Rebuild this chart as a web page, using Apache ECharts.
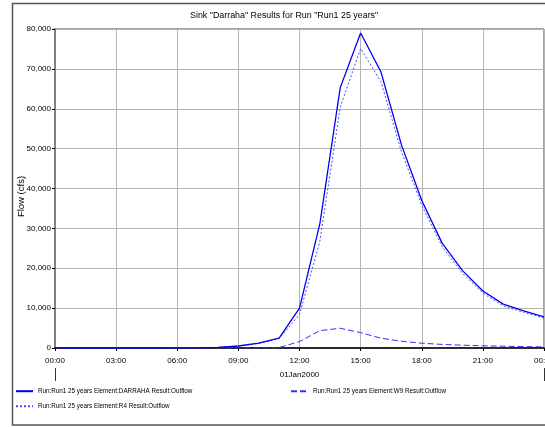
<!DOCTYPE html>
<html>
<head>
<meta charset="utf-8">
<script src="https://cdn.jsdelivr.net/npm/echarts@6/dist/echarts.min.js"></script>
<style>
  html, body { margin: 0; padding: 0; background: #fff; }
  #chart { width: 545px; height: 427px; }
</style>
</head>
<body>
<div id="chart"></div>
<script>
var FONT = '"Liberation Sans", Arial, sans-serif';

// hours since 00:00, 01Jan2000
var hours = [0, 1, 2, 3, 4, 5, 6, 7, 8, 9, 10, 11, 12, 13, 14, 15, 16, 17, 18, 19, 20, 21, 22, 23, 24];
// flows (cfs)
var darraha = [0, 0, 0, 0, 0, 0, 20, 50, 150, 500, 1200, 2500, 10000, 31200, 65300, 79000, 69200, 51000, 37000, 26300, 19400, 14300, 11000, 9300, 7800];
var w9 = [0, 0, 0, 0, 0, 0, 0, 0, 0, 0, 10, 120, 1600, 4350, 4950, 3850, 2450, 1700, 1200, 900, 700, 550, 450, 350, 280];
var r4 = [0, 0, 0, 0, 0, 0, 20, 50, 150, 500, 1150, 2350, 8400, 26800, 60400, 75100, 66800, 49300, 35800, 25400, 18700, 13750, 10550, 8950, 7500];

var names = [
  'Run:Run1 25 years Element:DARRAHA Result:Outflow',
  'Run:Run1 25 years Element:W9 Result:Outflow',
  'Run:Run1 25 years Element:R4 Result:Outflow'
];

function pairs(ys) {
  return hours.map(function (h, i) { return [h, ys[i]]; });
}

var chart = echarts.init(document.getElementById('chart'));
var legendText = { fontFamily: FONT, fontSize: 6.3, color: '#000' };
var legendBase = { itemWidth: 17, itemHeight: 8, padding: 0, textStyle: legendText, itemStyle: { opacity: 0 } };

chart.setOption({
  animation: false,
  title: {
    text: 'Sink "Darraha" Results for Run "Run1 25 years"',
    left: 185,
    top: 6,
    textStyle: { fontFamily: FONT, fontSize: 8.9, fontWeight: 'normal', color: '#000' }
  },
  graphic: [{
    type: 'rect',
    shape: { x: 12.5, y: 3.5, width: 560, height: 421.5 },
    style: { fill: 'none', stroke: '#555', lineWidth: 1.5 },
    silent: true
  }],
  legend: [
    Object.assign({ id: 'lg0', data: [names[0]], left: 15, top: 388 }, legendBase),
    Object.assign({ id: 'lg1', data: [names[1]], left: 290, top: 388 }, legendBase),
    Object.assign({ id: 'lg2', data: [names[2]], left: 15, top: 403 }, legendBase)
  ],
  grid: {
    left: 55, top: 29, right: 1, bottom: 79,
    outerBoundsMode: 'none', containLabel: false,
    show: true, borderColor: '#444', borderWidth: 1
  },
  xAxis: [{
    type: 'value', min: 0, max: 24, interval: 3,
    axisLine: { lineStyle: { color: '#000', width: 1.5 } },
    axisTick: { length: 3, lineStyle: { color: '#000' } },
    axisLabel: {
      fontFamily: FONT, fontSize: 8, color: '#000', margin: 9,
      formatter: function (v) { var h = v % 24; return (h < 10 ? '0' : '') + h + ':00'; }
    },
    splitLine: { show: true, lineStyle: { color: '#b4b4b4', width: 1 } }
  }, {
    type: 'value', min: 0, max: 24, interval: 24, position: 'bottom', offset: 20,
    name: '01Jan2000', nameLocation: 'middle', nameGap: 3,
    nameTextStyle: { fontFamily: FONT, fontSize: 8, color: '#000' },
    axisLine: { show: false },
    axisTick: { show: true, length: 13, lineStyle: { color: '#333', width: 1 } },
    axisLabel: { show: false },
    splitLine: { show: false }
  }],
  yAxis: {
    type: 'value', min: 0, max: 80000, interval: 10000,
    name: 'Flow (cfs)', nameLocation: 'middle', nameGap: 29, nameMoveOverlap: false,
    nameTextStyle: { fontFamily: FONT, fontSize: 9.5, color: '#000', padding: [0, 16, 0, 0] },
    axisLine: { show: true, lineStyle: { color: '#808080', width: 2 } },
    axisTick: { show: true, length: 3, lineStyle: { color: '#000' } },
    axisLabel: {
      fontFamily: FONT, fontSize: 8, color: '#000', margin: 4,
      formatter: function (v) { return v.toLocaleString('en-US'); }
    },
    splitLine: { show: true, lineStyle: { color: '#b4b4b4', width: 1 } }
  },
  series: [{
    name: names[0], type: 'line', data: pairs(darraha), symbol: 'none',
    lineStyle: { color: '#0000ee', width: 1.3, type: 'solid' }, itemStyle: { color: '#0000ee' }, z: 4
  }, {
    name: names[1], type: 'line', data: pairs(w9), symbol: 'none',
    lineStyle: { color: '#3030ff', width: 1, type: [6, 3] }, itemStyle: { color: '#3030ff' }, z: 3
  }, {
    name: names[2], type: 'line', data: pairs(r4), symbol: 'none',
    lineStyle: { color: '#4a4aff', width: 1, type: [2, 2] }, itemStyle: { color: '#4a4aff' }, z: 3
  }]
});
</script>
</body>
</html>
